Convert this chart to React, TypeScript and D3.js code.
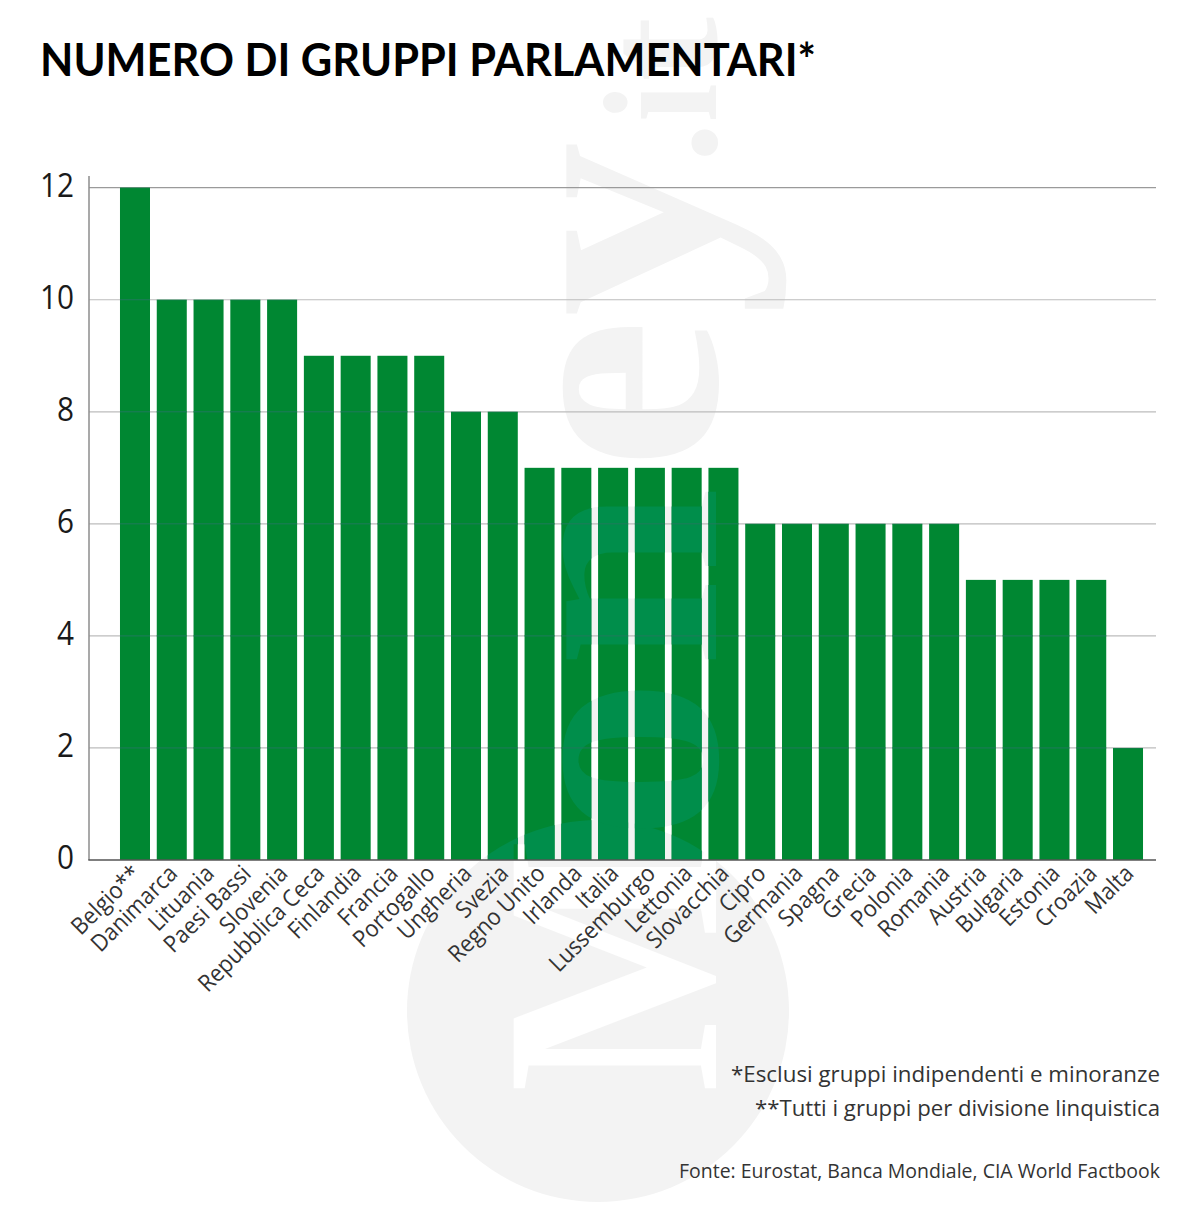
import { useEffect, useRef } from "react";
import * as d3 from "d3";

const countries = [
  "Belgio**", "Danimarca", "Lituania", "Paesi Bassi", "Slovenia", "Repubblica Ceca", "Finlandia",
  "Francia", "Portogallo", "Ungheria", "Svezia", "Regno Unito", "Irlanda", "Italia",
  "Lussemburgo", "Lettonia", "Slovacchia", "Cipro", "Germania", "Spagna", "Grecia",
  "Polonia", "Romania", "Austria", "Bulgaria", "Estonia", "Croazia", "Malta",
];
const groups = [12, 10, 10, 10, 10, 9, 9, 9, 9, 8, 8, 7, 7, 7, 7, 7, 7, 6, 6, 6, 6, 6, 6, 5, 5, 5, 5, 2];
const yTicks = [0, 2, 4, 6, 8, 10, 12];
const title = "NUMERO DI GRUPPI PARLAMENTARI*";
const notes = [
  { text: "*Esclusi gruppi indipendenti e minoranze", y: 1082, size: 22, len: 429 },
  { text: "**Tutti i gruppi per divisione linquistica", y: 1116, size: 22, len: 405 },
  { text: "Fonte: Eurostat, Banca Mondiale, CIA World Factbook", y: 1178, size: 20, len: 481 },
];
// watermark letters, placed one by one along the rotated baseline
const logoLetters = [
  { ch: "o", at: 841, size: 326, sx: 1 },
  { ch: "n", at: 668, size: 326, sx: 1 },
  { ch: "e", at: 470, size: 326, sx: 1.05 },
  { ch: "y", at: 317, size: 326, sx: 1.08 },
  { ch: ".", at: 163, size: 163, sx: 1 },
  { ch: "i", at: 122, size: 163, sx: 0.85 },
  { ch: "t", at: 82, size: 163, sx: 1.2 },
];

const GREEN = "#008732";
const SANS = "'Open Sans', sans-serif";
const SERIF = "'Liberation Serif', serif";

export default function App() {
  const svgRef = useRef<SVGSVGElement>(null);

  useEffect(() => {
    if (!svgRef.current) return;
    const svg = d3.select(svgRef.current);
    svg.selectAll("*").remove();

    const x = d3.scaleBand<string>().domain(countries).range([116.6, 1146.4]).paddingInner(0.184).paddingOuter(0.092);
    const y = d3.scaleLinear().domain([0, 12]).range([860, 187.7]);
    const left = 89;
    const right = 1156;

    const defs = svg.append("defs");
    // the M is a hole cut out of the logo circle
    const mask = defs.append("mask").attr("id", "logo-cut").attr("maskUnits", "userSpaceOnUse")
      .attr("x", 0).attr("y", 0).attr("width", 1200).attr("height", 1215);
    mask.append("rect").attr("width", 1200).attr("height", 1215).attr("fill", "#fff");
    mask.append("text").attr("transform", "translate(716,1093) rotate(-90) scale(0.88,1)")
      .attr("font-family", SERIF).attr("font-weight", 700).attr("font-size", 309).attr("fill", "#000").text("M");

    const clip = defs.append("clipPath").attr("id", "bars-clip");
    clip.selectAll("rect").data(countries).join("rect")
      .attr("x", (d) => x(d)!)
      .attr("y", (_, i) => y(groups[i]))
      .attr("width", x.bandwidth())
      .attr("height", (_, i) => y(0) - y(groups[i]));

    const watermark = (g: d3.Selection<SVGGElement, unknown, null, undefined>, fill: string) => {
      g.append("circle").attr("cx", 598).attr("cy", 1011).attr("r", 191).attr("fill", fill).attr("mask", "url(#logo-cut)");
      g.selectAll("text").data(logoLetters).join("text")
        .attr("transform", (d) => `translate(716,${d.at}) rotate(-90) scale(${d.sx},1)`)
        .attr("font-family", SERIF).attr("font-weight", 700)
        .attr("font-size", (d) => d.size).attr("fill", fill)
        .text((d) => d.ch);
    };

    svg.append("rect").attr("width", 1200).attr("height", 1215).attr("fill", "#fff");
    watermark(svg.append("g"), "#f3f3f3");

    // gridlines
    const grid = svg.append("g");
    grid.selectAll("line").data(yTicks.filter((t) => t > 0)).join("line")
      .attr("x1", left).attr("x2", right)
      .attr("y1", (d) => y(d)).attr("y2", (d) => y(d))
      .attr("stroke", (d) => (d === 12 ? "#9a9a9a" : "#bcbcbc")).attr("stroke-width", 1.2);

    // bars
    svg.append("g").selectAll("rect").data(countries).join("rect")
      .attr("x", (d) => x(d)!)
      .attr("y", (_, i) => y(groups[i]))
      .attr("width", x.bandwidth())
      .attr("height", (_, i) => y(0) - y(groups[i]))
      .attr("fill", GREEN);

    // logo and gridlines show through the bars
    watermark(svg.append("g").attr("clip-path", "url(#bars-clip)"), "#008e4b");
    svg.append("g").attr("clip-path", "url(#bars-clip)").selectAll("line").data(yTicks.filter((t) => t > 0)).join("line")
      .attr("x1", left).attr("x2", right)
      .attr("y1", (d) => y(d)).attr("y2", (d) => y(d))
      .attr("stroke", "#1f7a5c").attr("stroke-width", 1);

    // y axis
    const yAxis = svg.append("g").attr("transform", `translate(${left},0)`)
      .call(d3.axisLeft(y).tickValues(yTicks).tickSize(0).tickPadding(16));
    yAxis.select(".domain").remove();
    yAxis.selectAll("text")
      .attr("font-family", SANS).attr("font-size", 32).attr("fill", "#1a1a1a")
      .attr("dy", "0.28em")
      .attr("transform", "scale(0.93,1)");
    svg.append("line").attr("x1", left).attr("x2", left).attr("y1", 176).attr("y2", 860)
      .attr("stroke", "#8c8c8c").attr("stroke-width", 1.5);
    svg.append("line").attr("x1", left - 0.7).attr("x2", right).attr("y1", 860).attr("y2", 860)
      .attr("stroke", "#555").attr("stroke-width", 1.5);

    // x labels
    svg.append("g").selectAll("text").data(countries).join("text")
      .attr("transform", (d) => `translate(${x(d)! + x.bandwidth() / 2 + 7},875) rotate(-45) scale(0.93,1)`)
      .attr("text-anchor", "end")
      .attr("font-family", SANS).attr("font-size", 23.5).attr("fill", "#333")
      .text((d) => d);

    svg.append("text").attr("x", 40).attr("y", 76)
      .attr("font-family", "Lato, sans-serif").attr("font-weight", 700).attr("font-size", 46).attr("fill", "#000")
      .attr("textLength", 776).attr("lengthAdjust", "spacingAndGlyphs")
      .text(title);

    svg.append("g").selectAll("text").data(notes).join("text")
      .attr("x", (d) => 1160 - d.len).attr("y", (d) => d.y)
      .attr("font-family", SANS).attr("font-size", (d) => d.size).attr("fill", "#333")
      .attr("textLength", (d) => d.len).attr("lengthAdjust", "spacingAndGlyphs")
      .text((d) => d.text);
  }, []);

  return <svg ref={svgRef} width={1200} height={1215} style={{ position: "absolute", left: 0, top: 0, display: "block" }} />;
}
